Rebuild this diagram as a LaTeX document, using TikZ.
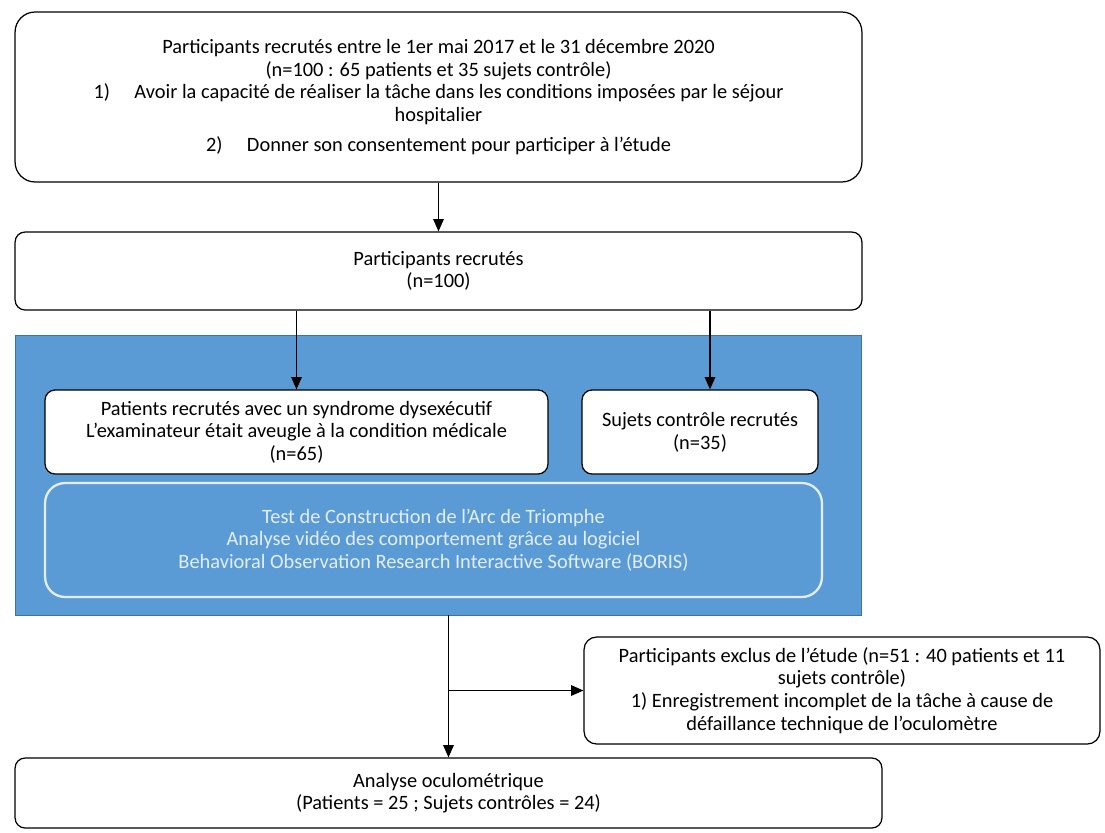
\documentclass[tikz,border=0pt]{standalone}
\usepackage{fontspec}
\setmainfont{Carlito}
\usetikzlibrary{shapes, arrows.meta, positioning}
\definecolor{panelblue}{HTML}{5B9BD5}
\definecolor{paleblue}{HTML}{E3EEF9}
\definecolor{edgeblue}{HTML}{41719C}

\begin{document}
\begin{tikzpicture}[x=0.02cm, y=-0.02cm,
  every node/.style={font=\fontsize{11.6}{12.9}\selectfont},
  stage/.style={rectangle, draw, line width=0.7pt, fill=white, rounded corners=0.2cm, align=center, inner sep=2pt},
  group/.style={rectangle, draw=edgeblue, line width=0.5pt, fill=panelblue},
  tool/.style={rectangle, draw=paleblue, line width=1.3pt, fill=panelblue, text=paleblue, rounded corners=0.4cm, align=center},
  flow/.style={-{Triangle[width=6pt, length=7pt]}, line width=0.7pt}
]
\useasboundingbox (0,0) rectangle (1105,832);
% Recrutement
\node[stage, rounded corners=0.4cm, minimum width=16.94cm, minimum height=3.4cm] (recr) at (438.5,97)
  {Participants recrutés entre le 1er mai 2017 et le 31 décembre 2020\\
   (n=100 : 65 patients et 35 sujets contrôle)\\
   1)\hspace{1.2em}Avoir la capacité de réaliser la tâche dans les conditions imposées par le séjour\\
   hospitalier\\[4pt]
   2)\hspace{1.2em}Donner son consentement pour participer à l’étude};
\node[stage, minimum width=16.94cm, minimum height=1.56cm] (total) at (438.5,271)
  {Participants recrutés\\ (n=100)};
% Bloc bleu
\node[group, minimum width=16.94cm, minimum height=5.6cm] (panel) at (438.5,475) {};
\node[stage, minimum width=10.06cm, minimum height=1.68cm] (pat) at (296.5,432)
  {Patients recrutés avec un syndrome dysexécutif\\
   L’examinateur était aveugle à la condition médicale\\ (n=65)};
\node[stage, minimum width=4.72cm, minimum height=1.68cm] (ctrl) at (700,432)
  {Sujets contrôle recrutés\\ (n=35)};
\node[tool, minimum width=15.54cm, minimum height=2.28cm] (test) at (433.5,540)
  {Test de Construction de l’Arc de Triomphe\\
   Analyse vidéo des comportement grâce au logiciel\\
   Behavioral Observation Research Interactive Software (BORIS)};
% Exclusion et analyse
\node[stage, rounded corners=0.25cm, minimum width=10.32cm, minimum height=2.14cm] (excl) at (842,690.5)
  {Participants exclus de l’étude (n=51 : 40 patients et 11\\
   sujets contrôle)\\
   1) Enregistrement incomplet de la tâche à cause de\\
   défaillance technique de l’oculomètre};
\node[stage, minimum width=17.34cm, minimum height=1.4cm] (ana) at (448.5,793)
  {Analyse oculométrique\\ (Patients = 25 ; Sujets contrôles = 24)};
% Flux
\draw[flow] (recr) -- (total);
\draw[flow] (pat.north |- total.south) -- (pat.north);
\draw[flow] ([xshift=0.2cm]ctrl.north |- total.south) -- ([xshift=0.2cm]ctrl.north);
\draw[flow] (ana.north |- panel.south) -- (ana.north);
\coordinate (split) at (ana.north |- excl.west);
\draw[flow] (split) -- (excl.west);
\end{tikzpicture}
\end{document}
